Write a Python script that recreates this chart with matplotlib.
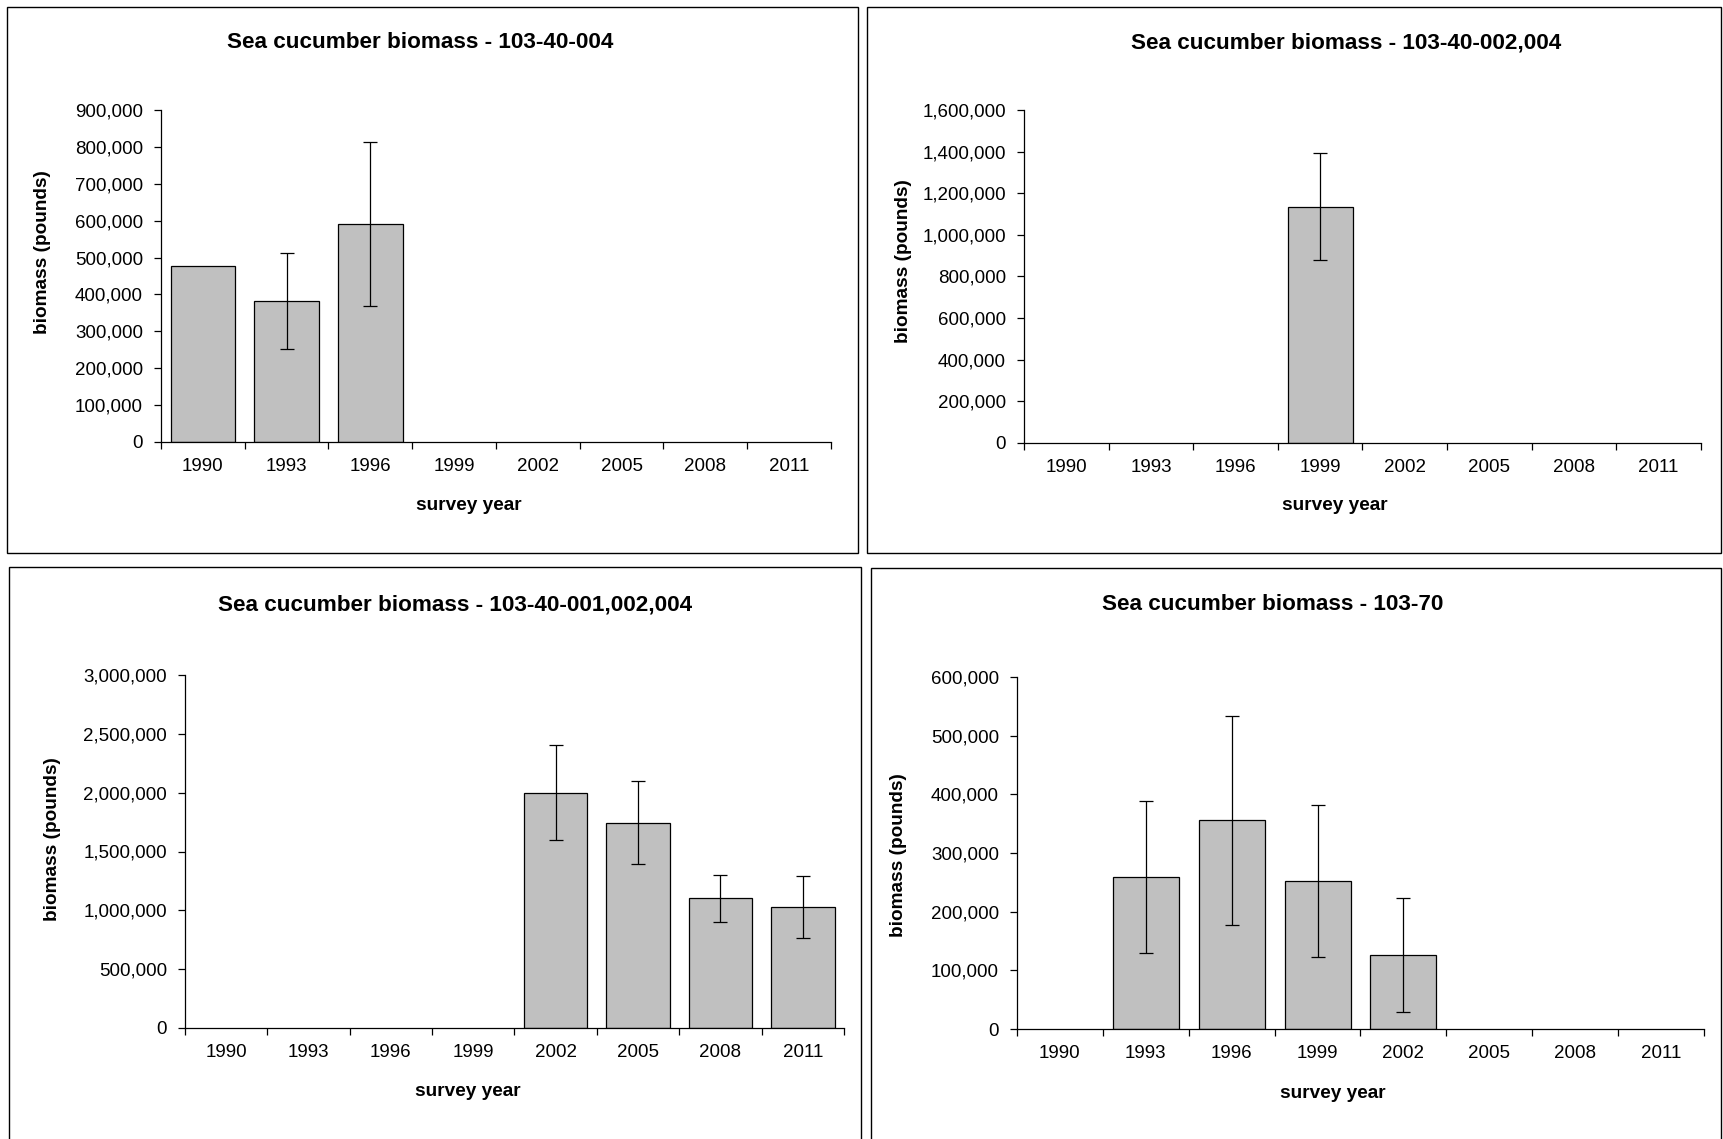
import numpy as np
import matplotlib
matplotlib.use("Agg")
import matplotlib.pyplot as plt
import matplotlib.patches as mpatches
from matplotlib.ticker import FuncFormatter, MultipleLocator, FixedLocator

plt.rcParams["font.family"] = ["Liberation Sans", "DejaVu Sans"]

#Survey years shared by all four panels
years = ["1990", "1993", "1996", "1999", "2002", "2005", "2008", "2011"]

#Biomass estimates (pounds) and +/- error, nan = no survey
bio_40_004 = [476000, 382000, 591000, np.nan, np.nan, np.nan, np.nan, np.nan]
err_40_004 = [0, 131000, 221000, np.nan, np.nan, np.nan, np.nan, np.nan]

bio_40_002_004 = [np.nan, np.nan, np.nan, 1136000, np.nan, np.nan, np.nan, np.nan]
err_40_002_004 = [np.nan, np.nan, np.nan, 257000, np.nan, np.nan, np.nan, np.nan]

bio_40_all = [np.nan, np.nan, np.nan, np.nan, 2000000, 1746000, 1102000, 1027000]
err_40_all = [np.nan, np.nan, np.nan, np.nan, 405000, 353000, 198000, 265000]

bio_70 = [np.nan, 259000, 356000, 253000, 126000, np.nan, np.nan, np.nan]
err_70 = [np.nan, 129500, 178000, 129500, 97500, np.nan, np.nan, np.nan]

titles = ["Sea cucumber biomass - 103-40-004",
          "Sea cucumber biomass - 103-40-002,004",
          "Sea cucumber biomass - 103-40-001,002,004",
          "Sea cucumber biomass - 103-70"]
ymaxes = [900000, 1600000, 3000000, 600000]
ysteps = [100000, 200000, 500000, 100000]

W, H = 1724, 1139
fig = plt.figure(figsize=(W/100, H/100), dpi=100)

def fx(x): return x/W
def fy(y): return 1 - y/H

#Layout in pixels: outer box, axes box (l, t, r, b), title, xlabel, ylabel centres
layout = [
    dict(box=(7, 7, 858, 553), ax=(161, 110, 831, 442), title=(420, 43), xl=(469, 506), yl=(43, 252)),
    dict(box=(867, 7, 1721, 553), ax=(1024, 110, 1701, 443), title=(1346, 43), xl=(1335, 506), yl=(904, 261)),
    dict(box=(9, 567, 861, 1145), ax=(185, 675, 844, 1028), title=(455, 605), xl=(468, 1091), yl=(53, 839)),
    dict(box=(871, 568, 1721, 1145), ax=(1017, 677, 1704, 1029), title=(1273, 605), xl=(1333, 1093), yl=(899, 855)),
]

series = [(bio_40_004, err_40_004), (bio_40_002_004, err_40_002_004),
          (bio_40_all, err_40_all), (bio_70, err_70)]

fmt = FuncFormatter(lambda v, p: "{:,.0f}".format(v))

for i, (vals, errs) in enumerate(series):
    L = layout[i]
    bl, bt, br, bb = L["box"]
    fig.patches.append(mpatches.Rectangle((fx(bl), fy(bb)), fx(br - bl), (bb - bt)/H,
                                          transform=fig.transFigure, fill=False,
                                          edgecolor="black", linewidth=1.0))
    al, at, ar, ab = L["ax"]
    ax = fig.add_axes([fx(al), fy(ab), fx(ar - al), (ab - at)/H])

    vals = np.array(vals, dtype=float)
    errs = np.array(errs, dtype=float)
    x = np.arange(len(years))
    ok = ~np.isnan(vals)
    ax.bar(x[ok], vals[ok], width=0.77, color="#C0C0C0", edgecolor="black", linewidth=0.9, zorder=2)
    has_err = ok & (np.nan_to_num(errs) > 0)
    ax.errorbar(x[has_err], vals[has_err], yerr=errs[has_err], fmt="none", ecolor="black",
                elinewidth=0.9, capsize=5, capthick=0.9, zorder=3)

    ax.set_xlim(-0.5, len(years) - 0.5)
    ax.set_ylim(0, ymaxes[i])
    ax.yaxis.set_major_locator(MultipleLocator(ysteps[i]))
    ax.yaxis.set_major_formatter(fmt)
    ax.xaxis.set_major_locator(FixedLocator(np.arange(len(years) + 1) - 0.5))
    ax.xaxis.set_minor_locator(FixedLocator(x))
    ax.set_xticklabels([], minor=False)
    ax.set_xticklabels(years, minor=True)
    ax.tick_params(axis="x", which="major", direction="out", length=5, width=0.9)
    ax.tick_params(axis="x", which="minor", length=0, pad=11.5, labelsize=13.5)
    ax.tick_params(axis="y", direction="out", length=5, width=0.9, pad=8, labelsize=13.5)
    for s in ["top", "right"]:
        ax.spines[s].set_visible(False)
    for s in ["left", "bottom"]:
        ax.spines[s].set_linewidth(0.9)

    fig.text(fx(L["title"][0]), fy(L["title"][1]), titles[i], ha="center", va="center",
             fontsize=16.2, fontweight="bold")
    fig.text(fx(L["xl"][0]), fy(L["xl"][1]), "survey year", ha="center", va="center",
             fontsize=13.7, fontweight="bold")
    fig.text(fx(L["yl"][0]), fy(L["yl"][1]), "biomass (pounds)", ha="center", va="center",
             rotation=90, fontsize=13.7, fontweight="bold")

fig.savefig("out.png", dpi=100)
